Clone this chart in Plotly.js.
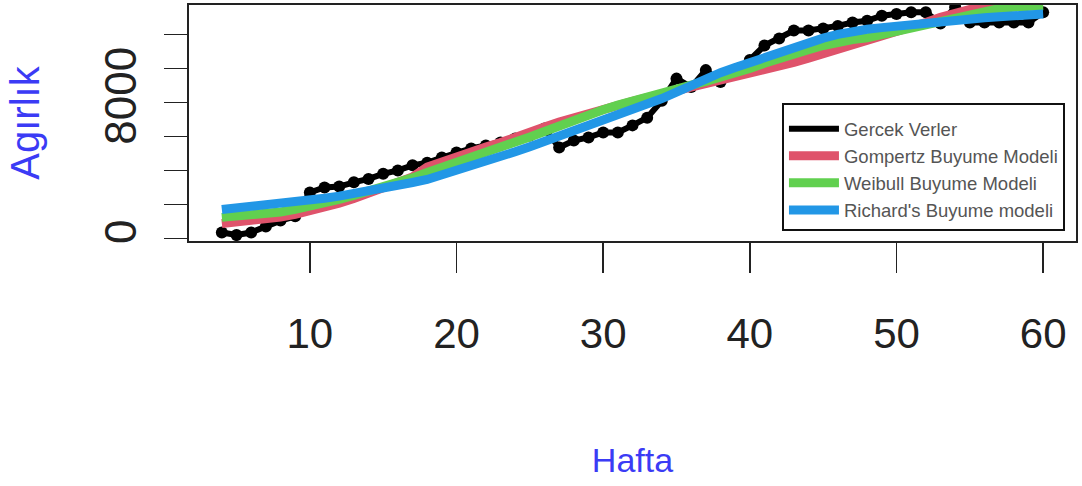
<!DOCTYPE html>
<html>
<head>
<meta charset="utf-8">
<script src="https://cdn.plot.ly/plotly-3.0.1.min.js"></script>
<style>
html,body{margin:0;padding:0;background:#fff;}
#chart{width:1082px;height:486px;}
</style>
</head>
<body>
<div id="chart"></div>
<script>
const weeks = [4,5,6,7,8,9,10,11,12,13,14,15,16,17,18,19,20,21,22,23,24,25,26,27,28,29,30,31,32,33,34,35,36,37,38,39,40,41,42,43,44,45,46,47,48,49,50,51,52,53,54,55,56,57,58,59,60];

const gercekVeriler = [350,200,350,700,1050,1300,2700,3000,3050,3300,3500,3800,4000,4300,4450,4760,5060,5290,5470,5650,5880,6060,6470,5350,5760,5940,6230,6230,6650,7100,8100,9400,8900,9900,9200,9800,10500,11350,11760,12230,12230,12350,12500,12700,12800,13100,13200,13300,13300,12640,13600,12700,12700,12700,12700,12700,13300];

const gompertz = [880,950,1030,1130,1260,1420,1610,1830,2080,2350,2640,2950,3280,3620,4200,4520,4830,5120,5380,5640,5900,6170,6550,6850,7120,7380,7620,7850,8070,8280,8480,8680,8870,9060,9250,9450,9650,9870,10100,10350,10600,10850,11100,11350,11600,11900,12150,12400,12700,13000,13250,13500,13700,13850,13950,14050,14100];

const weibull = [1240,1300,1370,1440,1560,1710,1880,2080,2300,2530,2770,3020,3280,3560,3880,4160,4440,4720,5010,5330,5650,5970,6290,6640,7000,7290,7570,7840,8100,8350,8580,8800,9020,9240,9460,9700,10000,10300,10600,10850,11100,11350,11550,11700,11800,12000,12200,12400,12600,12800,13000,13200,13380,13520,13600,13650,13680];

const richards = [1700,1780,1860,1940,2030,2130,2240,2360,2490,2630,2780,2940,3110,3290,3470,3720,3980,4250,4530,4810,5100,5400,5700,6050,6400,6700,7000,7300,7600,7900,8230,8600,9000,9380,9750,10050,10350,10650,10950,11250,11520,11780,12000,12180,12300,12400,12500,12590,12680,12770,12850,12920,12980,13040,13100,13150,13200];

const xTicks = [10,20,30,40,50,60];
const yTicks = [0,2000,4000,6000,8000,10000,12000];
const yTickText = ["0","","","","8000","",""];

const seriesNames = ["Gercek Verler","Gompertz Buyume Modeli","Weibull Buyume Modeli","Richard's Buyume modeli"];
const colors = ["#000000","#DF536B","#61D04F","#2297E6"];

const sans = '"Liberation Sans", Arial, sans-serif';

const traces = [
  {x: weeks, y: gercekVeriler, mode: 'markers', marker: {color: colors[0], size: 12}, showlegend: false, hoverinfo: 'skip', legendgroup: 'g0'},
  {x: weeks, y: gercekVeriler, mode: 'lines', line: {color: colors[0], width: 6}, name: seriesNames[0], legendgroup: 'g0'},
  {x: weeks, y: gompertz, mode: 'lines', line: {color: colors[1], width: 9}, name: seriesNames[1], legendgroup: 'g1'},
  {x: weeks, y: weibull, mode: 'lines', line: {color: colors[2], width: 9}, name: seriesNames[2], legendgroup: 'g2'},
  {x: weeks, y: richards, mode: 'lines', line: {color: colors[3], width: 9}, name: seriesNames[3], legendgroup: 'g3'}
];

const layout = {
  width: 1082, height: 486,
  margin: {l: 189, r: 6, t: 5, b: 245},
  paper_bgcolor: '#ffffff', plot_bgcolor: '#ffffff',
  showlegend: true,
  xaxis: {
    range: [1.76, 62.24], tickvals: xTicks, ticks: 'outside', ticklen: 30, tickwidth: 1.5, tickcolor: '#222',
    showgrid: false, zeroline: false, showline: true, mirror: true, linecolor: '#222', linewidth: 2,
    tickfont: {family: sans, size: 42, color: '#222'}, ticklabelstandoff: 25,
    title: {text: 'Hafta', font: {family: sans, size: 34, color: '#3b3bf5'}, standoff: 92}
  },
  yaxis: {
    range: [-150, 13730], tickvals: yTicks, ticktext: yTickText, ticks: 'outside', ticklen: 23, tickwidth: 1.5, tickcolor: '#222',
    showgrid: false, zeroline: false, showline: true, mirror: true, linecolor: '#222', linewidth: 2,
    tickangle: -90, tickfont: {family: sans, size: 44, color: '#222'}, ticklabelstandoff: 10,
    title: {text: 'Agırlık', font: {family: sans, size: 40, color: '#3b3bf5'}, standoff: 44}
  },
  legend: {
    x: 0.6685, y: 0.5847, xanchor: 'left', yanchor: 'top',
    bgcolor: '#ffffff', bordercolor: '#111', borderwidth: 2,
    font: {family: sans, size: 18.5, color: '#555'},
    title: {text: ' ', font: {family: sans, size: 4, color: '#555'}},
    tracegroupgap: 0, itemwidth: 50
  }
};

Plotly.newPlot('chart', traces, layout, {staticPlot: true, displayModeBar: false});
</script>
</body>
</html>
